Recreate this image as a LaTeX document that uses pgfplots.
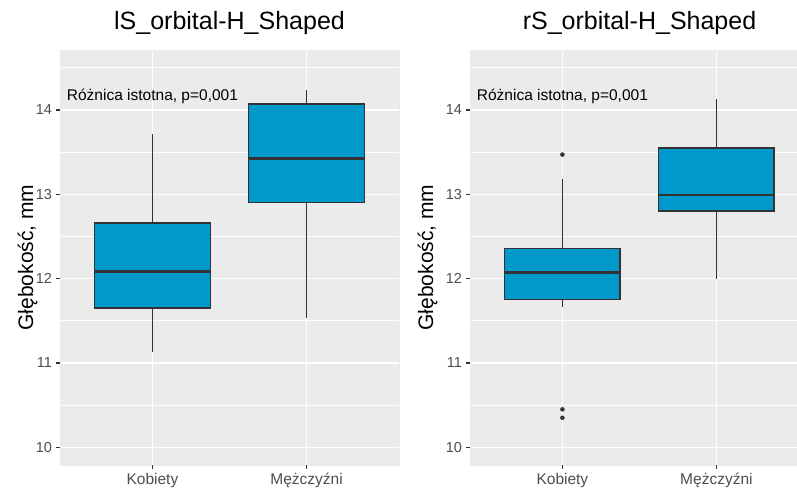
\documentclass[border=0pt]{standalone}
\usepackage{fontspec}
\setmainfont{Liberation Sans}
\usepackage{pgfplots}
\pgfplotsset{compat=1.18}
\definecolor{panelbg}{HTML}{EBEBEB}
\definecolor{boxfill}{HTML}{0099CC}
\definecolor{boxline}{HTML}{333333}
\definecolor{ticktext}{HTML}{4D4D4D}
\pgfplotsset{
  ggstyle/.style={
    scale only axis,
    clip=false,
    height=415pt,
    ymin=9.79, ymax=14.71,
    xmin=0.4,
    axis background/.style={fill=panelbg},
    axis line style={draw=panelbg, line width=0.1pt},
    xmajorgrids, ymajorgrids, yminorgrids,
    major grid style={draw=white, line width=1.3pt},
    minor grid style={draw=white, line width=0.7pt},
    xtick={1,2}, xticklabels={Kobiety,Mężczyźni},
    ytick={10,11,12,13,14},
    minor ytick={10.5,11.5,12.5,13.5,14.5},
    tick align=outside, tick pos=left,
    major tick length=0pt, minor tick length=0pt,
    xticklabel style={font=\fontsize{15.5}{18}\selectfont, text=ticktext, anchor=base, yshift=-19pt},
    yticklabel style={font=\fontsize{14.5}{17}\selectfont, text=ticktext, xshift=-4.5pt},
    /pgf/number format/assume math mode=true,
    title style={font=\fontsize{25}{30}\selectfont, anchor=base},
    ylabel={Głębokość, mm},
    ylabel style={font=\fontsize{21}{25}\selectfont, anchor=base},
  },
  ggbox/.style={fill=boxfill, draw=boxline, line width=1.4pt},
  ggwhisk/.style={draw=boxline, line width=1.3pt},
  ggmed/.style={draw=boxline, line width=2.8pt},
  ggtick/.style={draw=boxline, line width=1.3pt},
}
\begin{document}
\begin{tikzpicture}
\useasboundingbox (0,0) rectangle (797pt,491pt);
% Left panel
\begin{axis}[ggstyle, at={(60pt,26pt)}, anchor=south west, width=339pt, xmax=2.6,
  title={lS\_orbital-H\_Shaped},
  title style={at={(rel axis cs:0.5,1.0361)}},
  ylabel style={at={(rel axis cs:-0.0796,0.5)}}]
% tick marks (outside)
\addplot[ggtick] coordinates {(0.4,10) (0.372,10)};
\addplot[ggtick] coordinates {(0.4,11) (0.372,11)};
\addplot[ggtick] coordinates {(0.4,12) (0.372,12)};
\addplot[ggtick] coordinates {(0.4,13) (0.372,13)};
\addplot[ggtick] coordinates {(0.4,14) (0.372,14)};
\addplot[ggtick] coordinates {(1,9.79) (1,9.739)};
\addplot[ggtick] coordinates {(2,9.79) (2,9.739)};
% Kobiety: whiskers 11.13 / 13.71, quartiles 11.65 / 12.66, median 12.08
\addplot[ggwhisk] coordinates {(1,11.13) (1,11.65)};
\addplot[ggwhisk] coordinates {(1,12.66) (1,13.71)};
\addplot[ggbox] coordinates {(0.625,11.65) (1.375,11.65) (1.375,12.66) (0.625,12.66)} -- cycle;
\addplot[ggmed] coordinates {(0.625,12.08) (1.375,12.08)};
% Mezczyzni: whiskers 11.53 / 14.23, quartiles 12.90 / 14.07, median 13.42
\addplot[ggwhisk] coordinates {(2,11.53) (2,12.90)};
\addplot[ggwhisk] coordinates {(2,14.07) (2,14.23)};
\addplot[ggbox] coordinates {(1.625,12.90) (2.375,12.90) (2.375,14.07) (1.625,14.07)} -- cycle;
\addplot[ggmed] coordinates {(1.625,13.42) (2.375,13.42)};
\node[anchor=base, font=\fontsize{15.5}{18}\selectfont] at (axis cs:1,14.107) {Różnica istotna, p=0,001};
\end{axis}
% Right panel
\begin{axis}[ggstyle, at={(470pt,26pt)}, anchor=south west, width=327pt, xmax=2.5234,
  title={rS\_orbital-H\_Shaped},
  title style={at={(rel axis cs:0.5183,1.0361)}},
  ylabel style={at={(rel axis cs:-0.1131,0.5)}}]
% tick marks (outside)
\addplot[ggtick] coordinates {(0.4,10) (0.372,10)};
\addplot[ggtick] coordinates {(0.4,11) (0.372,11)};
\addplot[ggtick] coordinates {(0.4,12) (0.372,12)};
\addplot[ggtick] coordinates {(0.4,13) (0.372,13)};
\addplot[ggtick] coordinates {(0.4,14) (0.372,14)};
\addplot[ggtick] coordinates {(1,9.79) (1,9.739)};
\addplot[ggtick] coordinates {(2,9.79) (2,9.739)};
% Kobiety: whiskers 11.66 / 13.18, quartiles 11.75 / 12.36, median 12.07
\addplot[ggwhisk] coordinates {(1,11.66) (1,11.75)};
\addplot[ggwhisk] coordinates {(1,12.36) (1,13.18)};
\addplot[ggbox] coordinates {(0.625,11.75) (1.375,11.75) (1.375,12.36) (0.625,12.36)} -- cycle;
\addplot[ggmed] coordinates {(0.625,12.07) (1.375,12.07)};
% Mezczyzni: whiskers 12.00 / 14.13, quartiles 12.80 / 13.55, median 12.99
\addplot[ggwhisk] coordinates {(2,12.00) (2,12.80)};
\addplot[ggwhisk] coordinates {(2,13.55) (2,14.13)};
\addplot[ggbox] coordinates {(1.625,12.80) (2.375,12.80) (2.375,13.55) (1.625,13.55)} -- cycle;
\addplot[ggmed] coordinates {(1.625,12.99) (2.375,12.99)};
% outliers
\addplot[only marks, mark=*, mark size=2pt, color=boxline] coordinates {(1,13.47) (1,10.45) (1,10.35)};
\node[anchor=base, font=\fontsize{15.5}{18}\selectfont] at (axis cs:1,14.107) {Różnica istotna, p=0,001};
\end{axis}
\end{tikzpicture}
\end{document}
